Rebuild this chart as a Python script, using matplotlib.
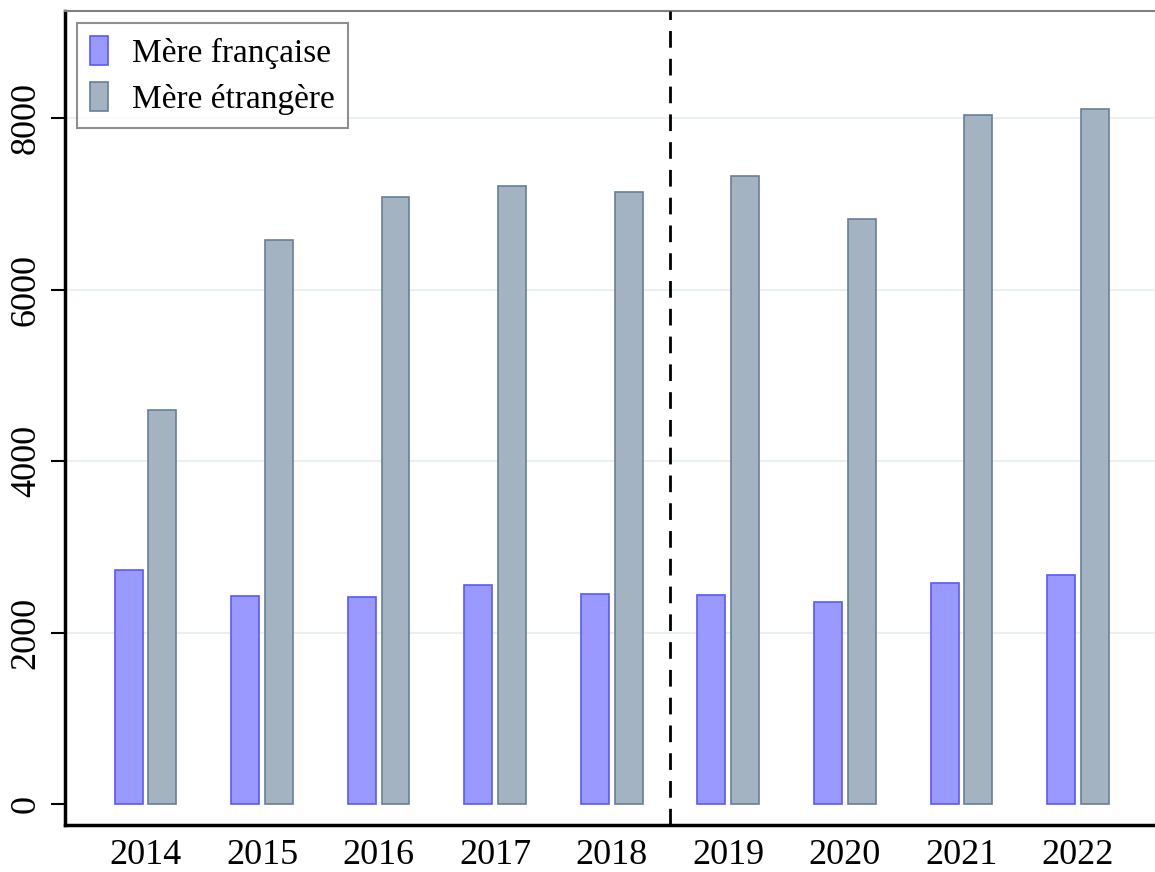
import matplotlib
matplotlib.use("Agg")
import matplotlib.pyplot as plt
import numpy as np

years = [2014, 2015, 2016, 2017, 2018, 2019, 2020, 2021, 2022]
mere_francaise = [2730, 2425, 2415, 2555, 2450, 2440, 2355, 2575, 2670]
mere_etrangere = [4595, 6575, 7080, 7205, 7135, 7325, 6820, 8035, 8105]
yticks = [0, 2000, 4000, 6000, 8000]
labels = ["Mère française", "Mère étrangère"]

plt.rcParams['font.family'] = ['Liberation Serif', 'DejaVu Serif']

fig = plt.figure(figsize=(11.55, 8.72), dpi=100)
ax = fig.add_axes([65/1155, 1-825/872, (1155-65)/1155, (825-11)/872])

x = np.array(years, dtype=float)
w = 0.24
off = 0.145
c1_face = (0.60, 0.60, 1.0)
c1_edge = (0.35, 0.35, 1.0)
c2_face = (0.64, 0.70, 0.76)
c2_edge = (0.40, 0.50, 0.60)
ax.bar(x - off, mere_francaise, w, color=c1_face, edgecolor=c1_edge, linewidth=1.2, zorder=3, label=labels[0])
ax.bar(x + off, mere_etrangere, w, color=c2_face, edgecolor=c2_edge, linewidth=1.2, zorder=3, label=labels[1])

ax.set_xlim(2013.31, 2022.66)
ax.set_ylim(-245, 9250)
ax.set_xticks(years)
ax.set_xticklabels([str(y) for y in years], fontsize=26)
ax.set_yticks(yticks)
ax.set_yticklabels([str(t) for t in yticks], fontsize=26, rotation=90, va='center')
ax.tick_params(axis='x', length=0, pad=10)
ax.tick_params(axis='y', length=10, width=1.5, direction='out', pad=6)

for t in yticks[1:]:
    ax.axhline(t, color=(0.91, 0.94, 0.94), linewidth=1.5, zorder=1)

ax.axvline(2018.5, color='black', linestyle=(0, (6, 4)), linewidth=2, zorder=4)

ax.spines['left'].set_linewidth(2.5)
ax.spines['bottom'].set_linewidth(2.5)
ax.spines['top'].set_color((0.5, 0.5, 0.5))
ax.spines['top'].set_linewidth(1.5)
ax.spines['right'].set_color((0.9, 0.9, 0.9))
ax.spines['right'].set_linewidth(1)

leg = ax.legend(loc='upper left', fontsize=24, frameon=True, fancybox=False,
                edgecolor=(0.45, 0.45, 0.45), handlelength=0.55, handleheight=0.95,
                borderaxespad=0.35, borderpad=0.4, labelspacing=0.4, handletextpad=0.7)
leg.get_frame().set_linewidth(1.5)

fig.savefig("out.png", dpi=100)
